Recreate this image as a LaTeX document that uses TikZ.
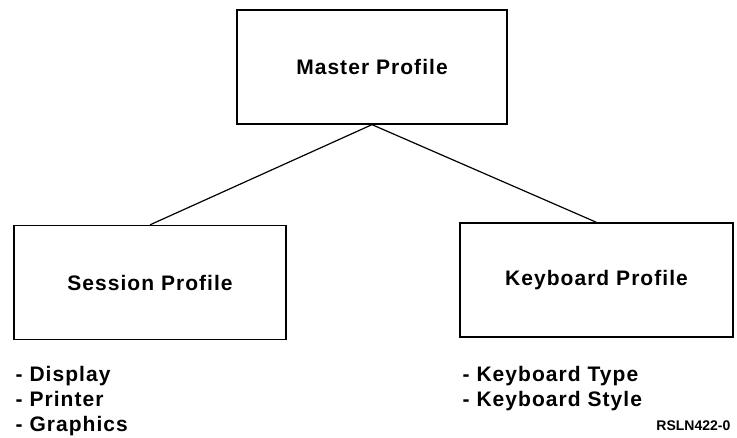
\documentclass[tikz,border=0pt]{standalone}
\usepackage{fontspec}
\setsansfont[LetterSpace=5]{Liberation Sans}
\newfontfamily\tagfont{Liberation Sans}
\usetikzlibrary{positioning}
\tikzset{
  every picture/.style={font=\sffamily\bfseries, line width=1.3pt},
  box/.style={draw=black, minimum width=#1, minimum height=114pt, inner sep=0pt,
    font=\sffamily\bfseries\fontsize{21}{25}\selectfont},
  box/.default=270pt,
  link/.style={draw=black, line width=1.2pt},
  items/.style={align=left, inner sep=0pt, font=\sffamily\bfseries\fontsize{21}{25}\selectfont},
  tag/.style={inner sep=0pt, font=\tagfont\bfseries\fontsize{14}{16}\selectfont},
}
\begin{document}
\begin{tikzpicture}[x=1pt, y=-1pt]
  \useasboundingbox (0,0) rectangle (737,438);
  % ---------- profile boxes
  \node[box=270pt] (master) at (372,67) {Master Profile};
  \node[box=272pt] (session) at (150,282.5) {Session Profile};
  \node[box=273pt] (keyboard) at (596.5,280) {Keyboard Profile};
  % ---------- links
  \draw[link] (master.south) -- (session.north);
  \draw[link] (master.south) -- (keyboard.north);
  % ---------- what each profile holds
  \node[items, anchor=north west] (sessitems) at (15,366) {- Display\\- Printer\\- Graphics};
  \node[items, anchor=north west] (keyitems) at (462,366) {- Keyboard Type\\- Keyboard Style};
  \node[tag, anchor=base east] (figid) at (731,431) {RSLN422-0};
\end{tikzpicture}
\end{document}
